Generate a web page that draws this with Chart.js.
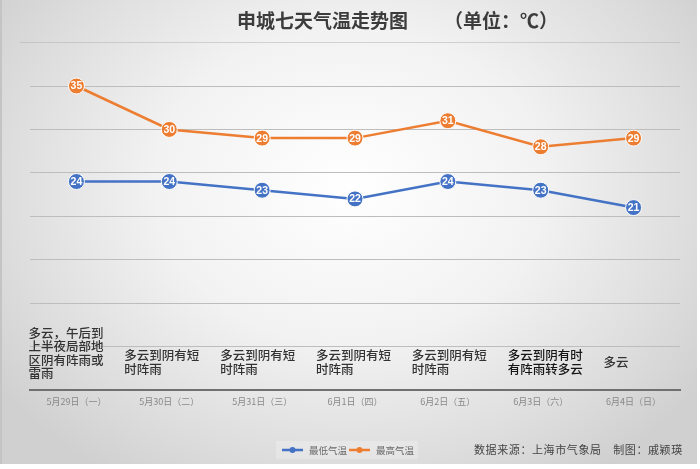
<!DOCTYPE html>
<html>
<head>
<meta charset="utf-8">
<script src="https://cdn.jsdelivr.net/npm/chart.js@4.4.0/dist/chart.umd.min.js"></script>
<style>
  html, body { margin: 0; padding: 0; background: #fff; }
  #wrap { position: relative; width: 700px; height: 469px; }
  #panel {
    position: absolute; left: 0; top: 0; width: 697px; height: 464px;
    background: radial-gradient(ellipse 62% 75% at 50% 40%, #ffffff 0%, #f2f2f2 45%, #dddddd 80%, #d0d0d0 100%);
    border-left: 2px solid #c4c4c4;
    box-sizing: border-box;
  }
  canvas { position: absolute; left: 0; top: 0; }
</style>
</head>
<body>
<div id="wrap">
  <div id="panel"></div>
  <canvas id="tempChart" width="700" height="469"></canvas>
</div>
<script>
const titleMain = '申城七天气温走势图';
const titleUnit = '（单位：℃）';
const sourceText = '数据来源：上海市气象局　制图：戚颖瑛';

const dates = ['5月29日（一）', '5月30日（二）', '5月31日（三）', '6月1日（四）', '6月2日（五）', '6月3日（六）', '6月4日（日）'];
const weather = [
  ['多云，午后到', '上半夜局部地', '区阴有阵雨或', '雷雨'],
  ['多云到阴有短', '时阵雨'],
  ['多云到阴有短', '时阵雨'],
  ['多云到阴有短', '时阵雨'],
  ['多云到阴有短', '时阵雨'],
  ['多云到阴有时', '有阵雨转多云'],
  ['多云']
];
const seriesNames = ['最低气温', '最高气温'];
const lowTemps = [24, 24, 23, 22, 24, 23, 21];
const highTemps = [35, 30, 29, 29, 31, 28, 29];
const yMin = 0;
const yMax = 35;
const yStep = 5;

const BLUE = '#4472C4';
const ORANGE = '#ED7D31';
const CJK = '"Noto Sans CJK SC", "Noto Sans", sans-serif';

// white numbers inside the markers
const pointLabels = {
  id: 'pointLabels',
  afterDatasetsDraw(chart) {
    const ctx = chart.ctx;
    ctx.save();
    ctx.fillStyle = '#fff';
    ctx.font = 'bold 10.5px "Liberation Sans", Arial, sans-serif';
    ctx.textAlign = 'center';
    ctx.textBaseline = 'middle';
    chart.data.datasets.forEach((ds, i) => {
      chart.getDatasetMeta(i).data.forEach((pt, j) => {
        ctx.fillText(ds.data[j], pt.x, pt.y + 0.5);
      });
    });
    ctx.restore();
  }
};

// title, weather text, legend and source line
const decorations = {
  id: 'decorations',
  beforeDraw(chart) {
    const ctx = chart.ctx;
    ctx.save();
    // title band separator
    ctx.strokeStyle = 'rgba(175,175,175,0.5)';
    ctx.lineWidth = 1;
    ctx.beginPath();
    ctx.moveTo(20, 42.5);
    ctx.lineTo(680, 42.5);
    ctx.stroke();

    ctx.fillStyle = '#3c3c3c';
    ctx.font = 'bold 19px ' + CJK;
    ctx.textBaseline = 'middle';
    ctx.textAlign = 'left';
    ctx.fillText(titleMain, 237, 21);
    ctx.fillText(titleUnit, 444, 21);
    ctx.restore();
  },
  afterDraw(chart) {
    const ctx = chart.ctx;
    const xs = chart.scales.x;
    ctx.save();

    // weather descriptions
    const lh = 13.5;
    ctx.font = '500 12.5px ' + CJK;
    ctx.textAlign = 'left';
    ctx.textBaseline = 'middle';
    weather.forEach((lines, i) => {
      const cx = xs.getPixelForValue(i);
      const left = cx - 48 + i * 3;
      const firstY = lines.length > 2 ? 333 : 362 - (lines.length - 1) * lh / 2;
      ctx.fillStyle = i === 5 ? '#151515' : '#333';
      lines.forEach((t, k) => ctx.fillText(t, left, firstY + k * lh));
    });

    // legend
    const ly = 450;
    ctx.fillStyle = 'rgba(255,255,255,0.22)';
    ctx.fillRect(276, 441, 142, 18);
    const items = [
      { name: seriesNames[0], color: BLUE, x: 282 },
      { name: seriesNames[1], color: ORANGE, x: 349 }
    ];
    ctx.font = '9.5px ' + CJK;
    items.forEach(it => {
      ctx.strokeStyle = it.color;
      ctx.lineWidth = 2.5;
      ctx.beginPath();
      ctx.moveTo(it.x, ly);
      ctx.lineTo(it.x + 21, ly);
      ctx.stroke();
      ctx.fillStyle = it.color;
      ctx.beginPath();
      ctx.arc(it.x + 10.5, ly, 3, 0, Math.PI * 2);
      ctx.fill();
      ctx.fillStyle = '#6a6a6a';
      ctx.fillText(it.name, it.x + 27, ly);
    });

    // source line
    ctx.fillStyle = '#444';
    ctx.font = '11px ' + CJK;
    ctx.letterSpacing = '0.6px';
    ctx.fillText(sourceText, 474, ly);
    ctx.restore();
  }
};

new Chart(document.getElementById('tempChart'), {
  type: 'line',
  data: {
    labels: dates,
    datasets: [
      {
        label: seriesNames[0],
        data: lowTemps,
        borderColor: BLUE,
        backgroundColor: BLUE,
        borderWidth: 2.5,
        pointRadius: 8,
        pointHoverRadius: 8,
        pointBackgroundColor: BLUE,
        pointBorderColor: '#fff',
        pointBorderWidth: 1,
        tension: 0,
        clip: false
      },
      {
        label: seriesNames[1],
        data: highTemps,
        borderColor: ORANGE,
        backgroundColor: ORANGE,
        borderWidth: 2.5,
        pointRadius: 8,
        pointHoverRadius: 8,
        pointBackgroundColor: ORANGE,
        pointBorderColor: '#fff',
        pointBorderWidth: 1,
        tension: 0,
        clip: false
      }
    ]
  },
  options: {
    responsive: false,
    animation: false,
    layout: { padding: { top: 86, right: 20, left: 0, bottom: 0 } },
    plugins: {
      legend: { display: false },
      title: { display: false },
      tooltip: { enabled: false }
    },
    scales: {
      x: {
        offset: true,
        grid: { display: false, drawTicks: false },
        border: { display: true, color: '#707070', width: 2 },
        ticks: {
          color: '#888',
          font: { size: 9, family: CJK },
          padding: 6,
          maxRotation: 0,
          autoSkip: false
        },
        afterFit(scale) { scale.height = 79; }
      },
      y: {
        min: yMin,
        max: yMax,
        ticks: { display: false, stepSize: yStep },
        grid: {
          color: ctx => ctx.tick.value === yMin ? '#707070' : '#bdbdbd',
          lineWidth: ctx => ctx.tick.value === yMin ? 2 : 1,
          drawTicks: false
        },
        border: { display: false },
        afterFit(scale) { scale.width = 30; }
      }
    }
  },
  plugins: [pointLabels, decorations]
});
</script>
</body>
</html>
